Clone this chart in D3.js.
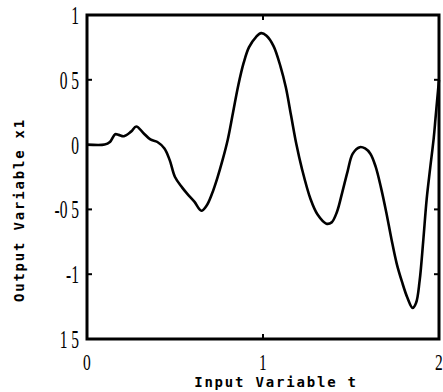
<!DOCTYPE html>
<html>
<head>
<meta charset="utf-8">
<script src="https://cdn.jsdelivr.net/npm/d3@7"></script>
<style>
	body { margin: 0; background: #fff; }
	.tick-label { font-family: "Liberation Serif", serif; font-size: 25px; fill: #000; }
	.axis-title { font-family: "DejaVu Sans Mono", monospace; font-weight: bold; font-size: 14px; letter-spacing: 1.8px; fill: #000; }
</style>
</head>
<body>
<div id="chart"></div>
<script>
const tValues = [0, 0.10, 0.13, 0.16, 0.18, 0.21, 0.25, 0.28, 0.32, 0.36, 0.40, 0.44, 0.47, 0.50, 0.54, 0.57,
	0.61, 0.65, 0.68, 0.71, 0.74, 0.77, 0.80, 0.83, 0.86, 0.89, 0.92, 0.96, 0.99, 1.02, 1.06, 1.10,
	1.13, 1.16, 1.19, 1.22, 1.27, 1.31, 1.36, 1.39, 1.42, 1.45, 1.48, 1.51, 1.55, 1.58, 1.61, 1.64,
	1.67, 1.70, 1.73, 1.76, 1.79, 1.82, 1.85, 1.87, 1.89, 1.91, 1.93, 1.95, 1.97, 1.98, 1.99, 2.0];
const x1Values = [0, 0, 0.02, 0.08, 0.075, 0.065, 0.10, 0.14, 0.09, 0.04, 0.02, -0.03, -0.12, -0.25, -0.33, -0.38,
	-0.44, -0.51, -0.47, -0.38, -0.26, -0.12, 0.04, 0.25, 0.46, 0.63, 0.75, 0.83, 0.86, 0.84, 0.76, 0.60,
	0.44, 0.22, 0.0, -0.18, -0.42, -0.54, -0.61, -0.60, -0.52, -0.37, -0.21, -0.07, -0.02, -0.03, -0.07, -0.17,
	-0.33, -0.52, -0.73, -0.92, -1.06, -1.18, -1.26, -1.22, -1.05, -0.75, -0.42, -0.18, 0.05, 0.20, 0.35, 0.50];

const xTicks = [0, 1, 2];
const xTickLabels = ["0", "1", "2"];
const yTicks = [1, 0.5, 0, -0.5, -1, -1.5];
const yTickLabels = ["1", "0 5", "0", "-0 5", "-1", "1 5"];

const data = tValues.map((t, i) => ({t: t, v: x1Values[i]}));

const W = 443, H = 392;
const margin = {top: 15, right: 4, bottom: 53, left: 87};
const width = W - margin.left - margin.right,
	height = H - margin.top - margin.bottom;

const svg = d3.select("#chart")
	.append("svg")
		.attr("width", W)
		.attr("height", H)
	.append("g")
		.attr("transform", `translate(${margin.left},${margin.top})`);

const x = d3.scaleLinear().domain([0, 2]).range([0, width]);
const y = d3.scaleLinear().domain([-1.5, 1]).range([height, 0]);

// inner ticks on all four sides
const inner = [0.5, -0.5, -1];
inner.forEach(v => {
	svg.append("line").attr("x1", 0).attr("x2", 5).attr("y1", y(v)).attr("y2", y(v))
		.attr("stroke", "#000").attr("stroke-width", 2);
	svg.append("line").attr("x1", width - 5).attr("x2", width).attr("y1", y(v)).attr("y2", y(v))
		.attr("stroke", "#000").attr("stroke-width", 2);
});
[1].forEach(v => {
	svg.append("line").attr("x1", x(v)).attr("x2", x(v)).attr("y1", 0).attr("y2", 5)
		.attr("stroke", "#000").attr("stroke-width", 2);
	svg.append("line").attr("x1", x(v)).attr("x2", x(v)).attr("y1", height - 5).attr("y2", height)
		.attr("stroke", "#000").attr("stroke-width", 2);
});

// the curve
svg.append("path")
	.datum(data)
	.attr("fill", "none")
	.attr("stroke", "#000")
	.attr("stroke-width", 2.6)
	.attr("stroke-linejoin", "round")
	.attr("d", d3.line()
		.x(d => x(d.t))
		.y(d => y(d.v))
		.curve(d3.curveCatmullRom.alpha(0.5))
	);

// frame
svg.append("rect")
	.attr("width", width)
	.attr("height", height)
	.attr("fill", "none")
	.attr("stroke", "#000")
	.attr("stroke-width", 3);

// y tick labels
svg.selectAll(".ylab")
	.data(yTicks)
	.enter().append("text")
		.attr("class", "tick-label")
		.attr("text-anchor", "end")
		.attr("transform", d => `translate(-8,${y(d) + 9}) scale(0.62,1)`)
		.text((d, i) => yTickLabels[i]);

// x tick labels
svg.selectAll(".xlab")
	.data(xTicks)
	.enter().append("text")
		.attr("class", "tick-label")
		.attr("text-anchor", "middle")
		.attr("transform", d => `translate(${x(d)},${height + 31}) scale(0.62,0.95)`)
		.text((d, i) => xTickLabels[i]);

// axis titles
svg.append("text")
	.attr("class", "axis-title")
	.attr("text-anchor", "middle")
	.attr("x", 276 - margin.left)
	.attr("y", 387 - margin.top)
	.text("Input Variable t");

svg.append("text")
	.attr("class", "axis-title")
	.attr("text-anchor", "middle")
	.attr("transform", `translate(${24 - margin.left},${210 - margin.top}) rotate(-90)`)
	.text("Output Variable x1");
</script>
</body>
</html>
